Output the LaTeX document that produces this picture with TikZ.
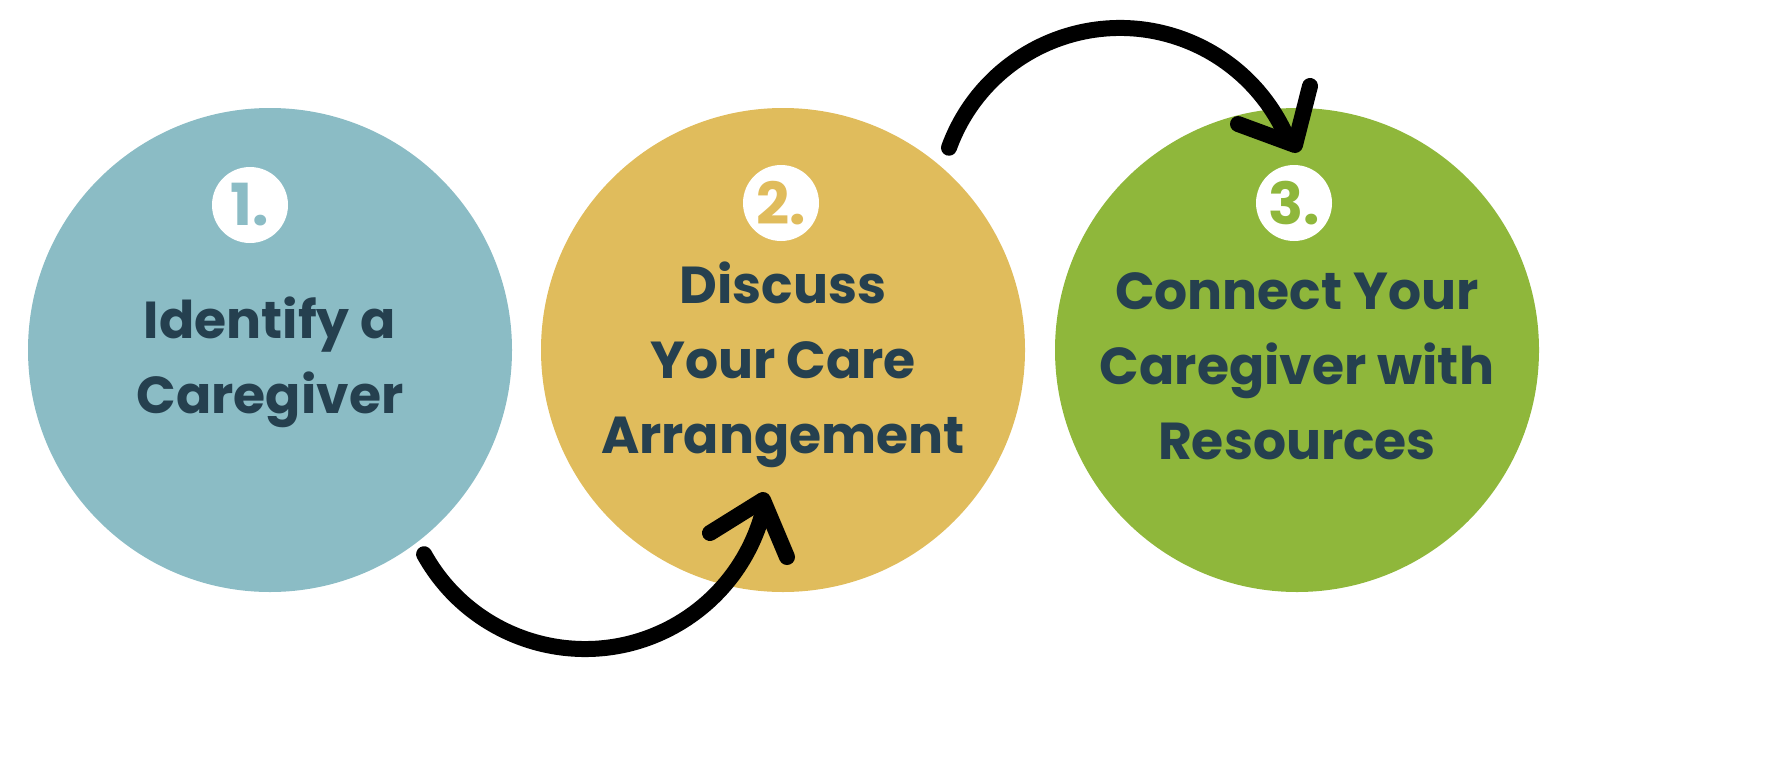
\documentclass[tikz,border=0pt]{standalone}
\usepackage{fontspec}
\setmainfont{Poppins}[UprightFont=* Bold]
\definecolor{cblue}{HTML}{8BBCC5}
\definecolor{cyel}{HTML}{E0BC5C}
\definecolor{cgreen}{HTML}{8FB73B}
\definecolor{ctext}{HTML}{25404F}
\begin{document}
\begin{tikzpicture}[x=0.5pt,y=0.5pt,
  big/.style={circle,minimum size=242pt,inner sep=0pt},
  badge/.style={circle,fill=white,minimum size=38pt,inner sep=0pt,font=\fontsize{29}{29}\selectfont},
  lbl/.style={align=center,text=ctext,font=\fontsize{26}{37.5}\selectfont},
  arr/.style={line width=8pt,line cap=round,line join=round}]
\useasboundingbox (0,0) rectangle (1782,768);
\node[big,fill=cblue] (c1) at (270,418) {};
\node[big,fill=cyel] (c2) at (783,418) {};
\node[big,fill=cgreen] (c3) at (1297,418) {};
\node[badge,text=cblue] (b1) at (250,563) {1.};
\node[badge,text=cyel] (b2) at (781,565) {2.};
\node[badge,text=cgreen] (b3) at (1294,565) {3.};
\node[lbl] (t1) at (270,406) {Identify a\\Caregiver};
\node[lbl] (t2) at (783,403) {Discuss\\Your Care\\Arrangement};
\node[lbl] (t3) at (1297,402) {Connect Your\\Caregiver with\\Resources};
% arrow 1
\coordinate (a1) at (763,268);
\coordinate (h1a) at (710,235);
\coordinate (h1b) at (787,211);
\draw[arr] (585,303) ++(209:184) arc[start angle=209,end angle=345,radius=184];
\draw[arr] (h1a) -- (a1) -- (h1b);
% arrow 2
\coordinate (a2) at (1295,623);
\coordinate (h2a) at (1238,644);
\coordinate (h2b) at (1310,682);
\draw[arr] (1120,558) ++(160:182) arc[start angle=160,end angle=23,radius=182];
\draw[arr] (h2a) -- (a2) -- (h2b);
\end{tikzpicture}
\end{document}
